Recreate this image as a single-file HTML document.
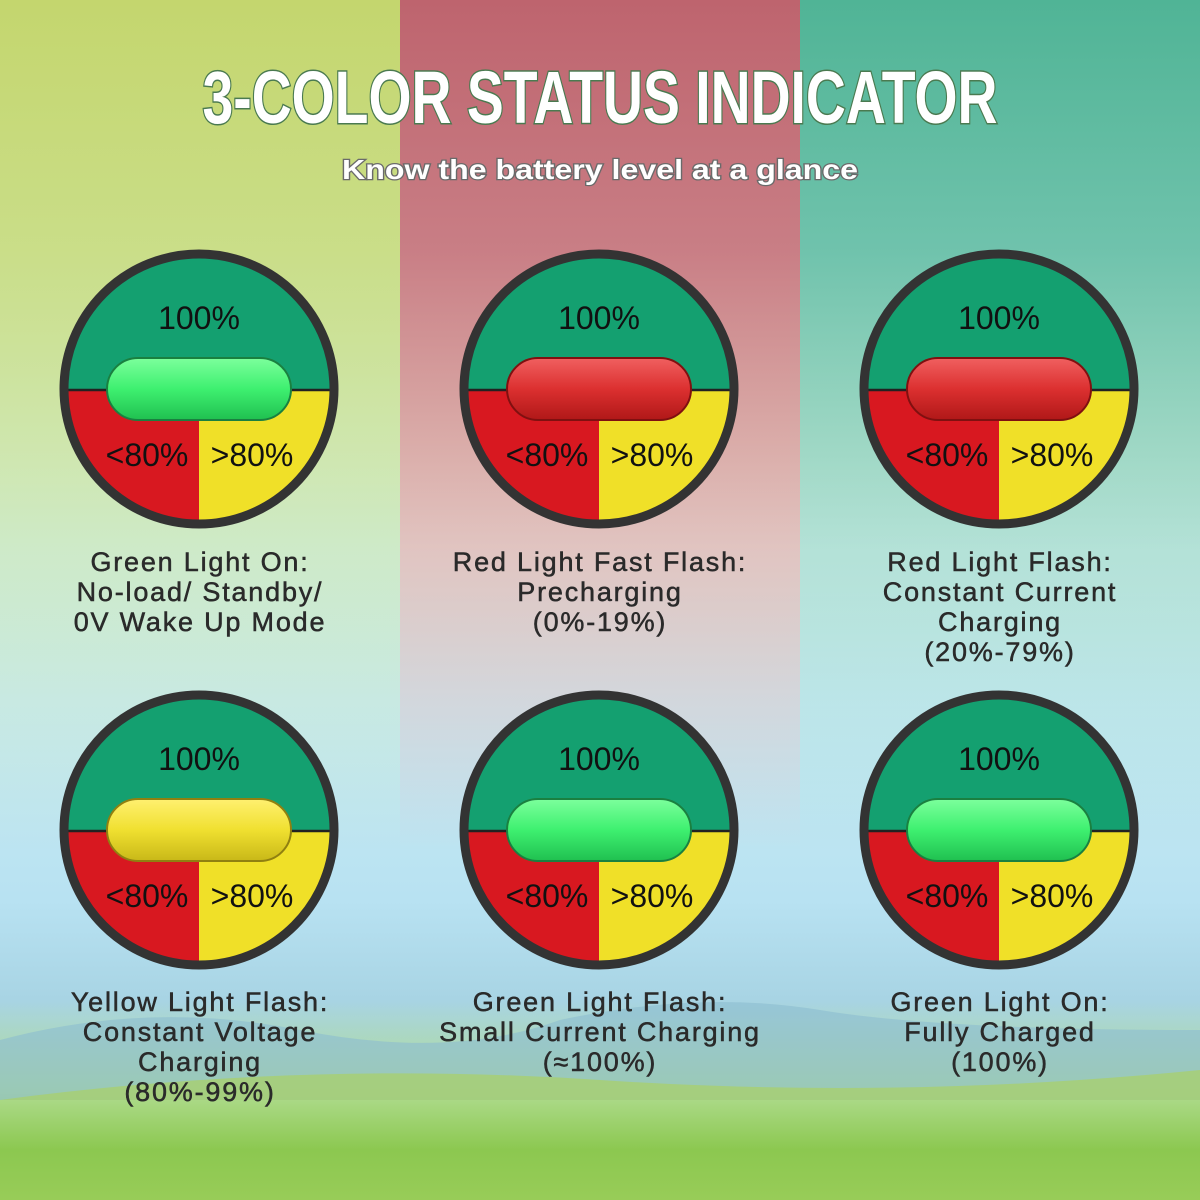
<!DOCTYPE html>
<html><head><meta charset="utf-8"><style>
html,body{margin:0;padding:0}
body{width:1200px;height:1200px;position:relative;overflow:hidden;font-family:"Liberation Sans",sans-serif}
.bg{position:absolute;inset:0;background:linear-gradient(to bottom,#d8ecb0 0,#d8eed0 450px,#c8eaf0 700px,#b8e2f2 900px,#a8d4e4 1000px,#b0dc90 1090px,#8cc850 1150px,#98cc58 1200px)}
.band{position:absolute;top:0;height:900px;width:400px}
.b1{left:0;background:linear-gradient(to bottom,rgba(196,214,110,1) 0,rgba(200,220,130,.9) 250px,rgba(200,230,170,.4) 550px,rgba(200,230,200,0) 850px)}
.b2{left:400px;background:linear-gradient(to bottom,rgba(190,100,110,1) 0,rgba(200,120,130,.95) 250px,rgba(235,170,175,.6) 550px,rgba(230,200,210,0) 850px)}
.b3{left:800px;background:linear-gradient(to bottom,rgba(80,180,150,1) 0,rgba(100,190,170,.9) 250px,rgba(150,215,210,.5) 550px,rgba(180,225,230,0) 850px)}
.mtn{position:absolute;left:0;top:960px;width:1200px;height:140px}
svg.main{position:absolute;left:0;top:0}
</style></head><body>
<div class="bg"></div>
<div class="band b1"></div><div class="band b2"></div><div class="band b3"></div>
<svg class="mtn" width="1200" height="140"><path d="M0 80 Q150 40 300 70 T560 60 Q700 30 820 50 T1200 70 L1200 140 L0 140Z" fill="#8cbcd0" opacity=".6"/><path d="M0 140 Q300 100 600 120 T1200 110 L1200 140Z" fill="#a8d070" opacity=".8"/></svg>
<svg class="main" width="1200" height="1200" xmlns="http://www.w3.org/2000/svg">
<defs>
<linearGradient id="pg" x1="0" y1="0" x2="0" y2="1"><stop offset="0" stop-color="#7cff9c"/><stop offset=".5" stop-color="#3ef070"/><stop offset="1" stop-color="#20c050"/></linearGradient>
<linearGradient id="pr" x1="0" y1="0" x2="0" y2="1"><stop offset="0" stop-color="#f06060"/><stop offset=".5" stop-color="#dc3030"/><stop offset="1" stop-color="#b01818"/></linearGradient>
<linearGradient id="py" x1="0" y1="0" x2="0" y2="1"><stop offset="0" stop-color="#fff070"/><stop offset=".5" stop-color="#f0e030"/><stop offset="1" stop-color="#c8b818"/></linearGradient>
<g id="face">
<clipPath id="cc"><circle cx="0" cy="0" r="135"/></clipPath>
<g clip-path="url(#cc)">
<rect x="-140" y="-140" width="280" height="141" fill="#14a070"/>
<rect x="-140" y="1" width="140" height="140" fill="#d81820"/>
<rect x="0" y="1" width="140" height="140" fill="#f0e028"/>
<line x1="-140" y1="1" x2="140" y2="1" stroke="#222" stroke-width="2.5"/>
</g>
<circle cx="0" cy="0" r="135" fill="none" stroke="#333" stroke-width="9"/>
<text x="0" y="-60" font-size="32" text-anchor="middle" fill="#111">100%</text>
<text x="-52" y="77" font-size="32" text-anchor="middle" fill="#111">&lt;80%</text>
<text x="53" y="77" font-size="32" text-anchor="middle" fill="#111">&gt;80%</text>
</g>
</defs>
<text x="600" y="123" font-size="74" font-weight="bold" text-anchor="middle" textLength="795" lengthAdjust="spacingAndGlyphs" fill="#fff" stroke="#4a7a50" stroke-width="3" paint-order="stroke">3-COLOR STATUS INDICATOR</text>
<text x="600" y="179" font-size="28" font-weight="bold" text-anchor="middle" textLength="516" lengthAdjust="spacingAndGlyphs" fill="#fff" stroke="#6a6a6a" stroke-width="2.5" paint-order="stroke">Know the battery level at a glance</text>

<g transform="translate(199,389)"><use href="#face"/><rect x="-92" y="-31" width="184" height="62" rx="31" fill="url(#pg)" stroke="#1a8040" stroke-width="2"/></g>
<g transform="translate(599,389)"><use href="#face"/><rect x="-92" y="-31" width="184" height="62" rx="31" fill="url(#pr)" stroke="#801010" stroke-width="2"/></g>
<g transform="translate(999,389)"><use href="#face"/><rect x="-92" y="-31" width="184" height="62" rx="31" fill="url(#pr)" stroke="#801010" stroke-width="2"/></g>
<g transform="translate(199,830)"><use href="#face"/><rect x="-92" y="-31" width="184" height="62" rx="31" fill="url(#py)" stroke="#908010" stroke-width="2"/></g>
<g transform="translate(599,830)"><use href="#face"/><rect x="-92" y="-31" width="184" height="62" rx="31" fill="url(#pg)" stroke="#1a8040" stroke-width="2"/></g>
<g transform="translate(999,830)"><use href="#face"/><rect x="-92" y="-31" width="184" height="62" rx="31" fill="url(#pg)" stroke="#1a8040" stroke-width="2"/></g>

<g font-size="27" text-anchor="middle" fill="#2a2a2a" stroke="#2a2a2a" stroke-width="0.5" letter-spacing="1.8">
<text x="200" y="571">Green Light On:</text>
<text x="200" y="601">No-load/ Standby/</text>
<text x="200" y="631">0V Wake Up Mode</text>
<text x="600" y="571">Red Light Fast Flash:</text>
<text x="600" y="601">Precharging</text>
<text x="600" y="631">(0%-19%)</text>
<text x="1000" y="571">Red Light Flash:</text>
<text x="1000" y="601">Constant Current</text>
<text x="1000" y="631">Charging</text>
<text x="1000" y="661">(20%-79%)</text>
<text x="200" y="1011">Yellow Light Flash:</text>
<text x="200" y="1041">Constant Voltage</text>
<text x="200" y="1071">Charging</text>
<text x="200" y="1101">(80%-99%)</text>
<text x="600" y="1011">Green Light Flash:</text>
<text x="600" y="1041">Small Current Charging</text>
<text x="600" y="1071">(≈100%)</text>
<text x="1000" y="1011">Green Light On:</text>
<text x="1000" y="1041">Fully Charged</text>
<text x="1000" y="1071">(100%)</text>
</g>
</svg>
</body></html>
